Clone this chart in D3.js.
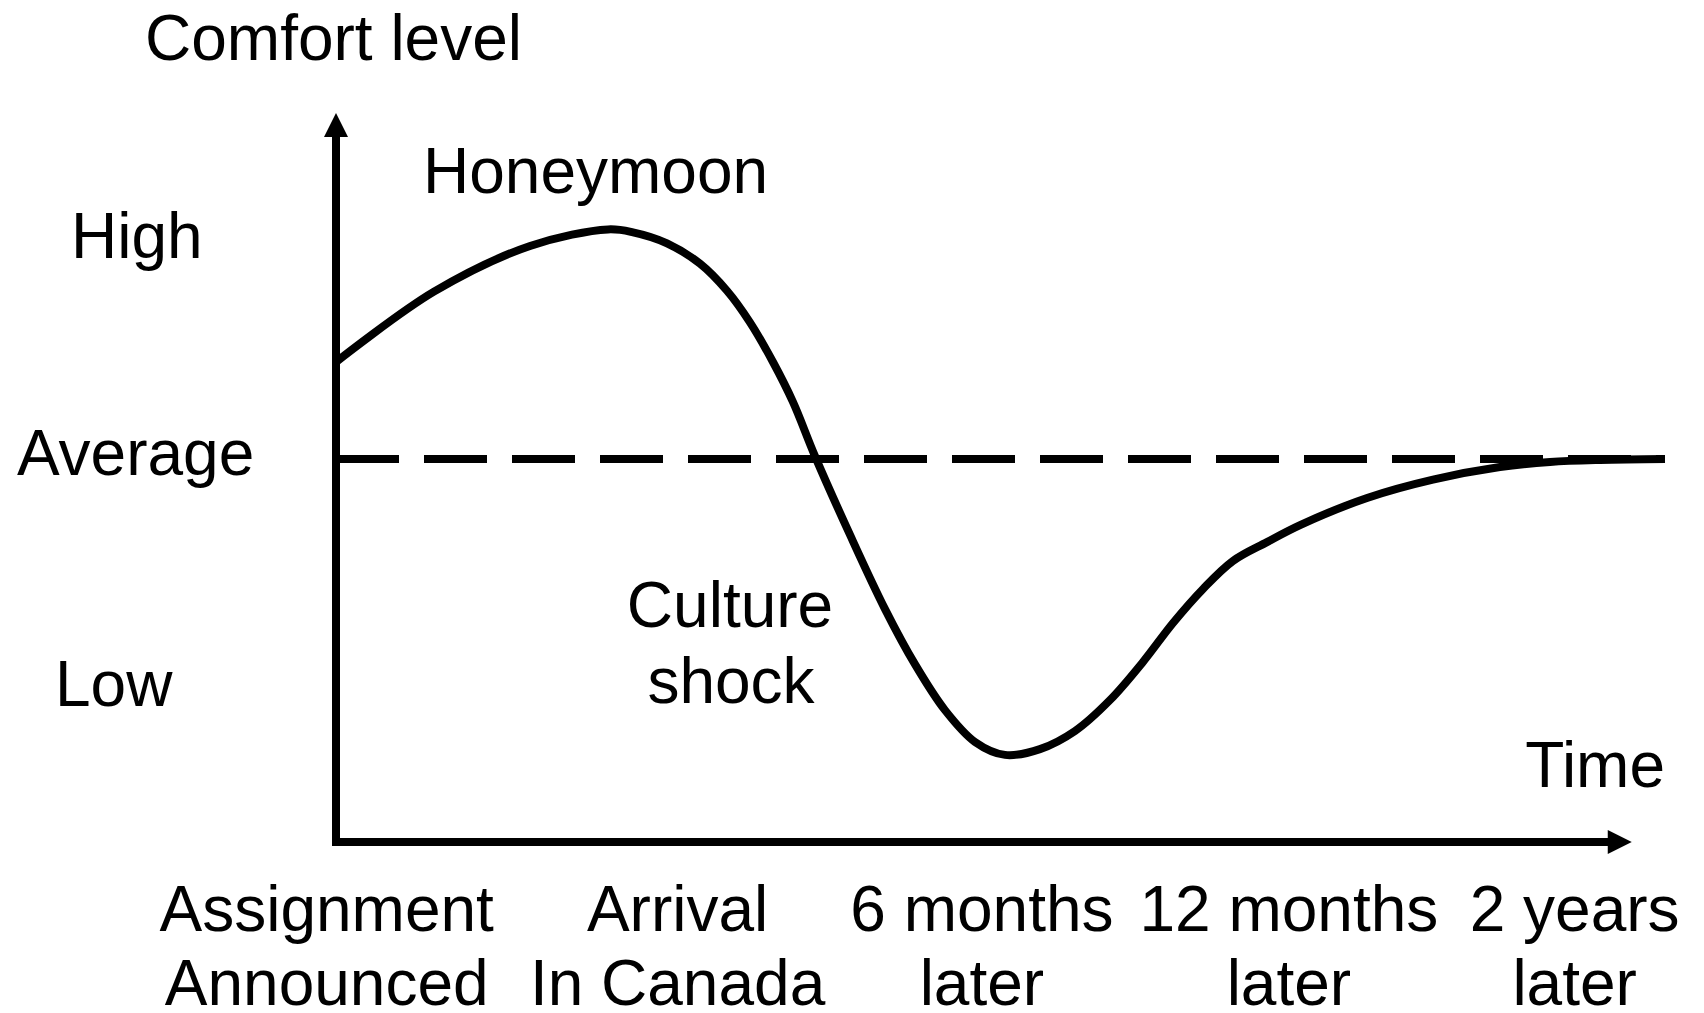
<!DOCTYPE html>
<html>
<head>
<meta charset="utf-8">
<script src="https://cdn.jsdelivr.net/npm/d3@7"></script>
<style>
  html, body { margin: 0; padding: 0; background: #fff; }
  svg { display: block; }
  text { font-family: "Liberation Sans", Arial, Helvetica, sans-serif; font-size: 64px; fill: #000; }
</style>
</head>
<body>
<div id="chart"></div>
<script>
// time runs 0..100 along the x axis, comfort: Low = 1, Average = 2, High = 3
var curve_time = [0, 7.37, 14.60, 20.47, 22.35, 24.91, 27.39, 29.42, 31.15, 32.88, 34.39, 36.04, 38.68, 41.31,
  43.57, 45.82, 48.08, 50.34, 52.97, 55.61, 58.24, 60.72, 62.98, 65.24, 67.49, 70.05, 72.54, 77.58, 82.54, 87.58,
  91.35, 95.11, 100];
var curve_comfort = [2.433, 2.747, 2.951, 3.025, 3.012, 2.963, 2.872, 2.751, 2.610, 2.433, 2.254, 2.013, 1.661, 1.330,
  1.083, 0.879, 0.737, 0.679, 0.705, 0.786, 0.924, 1.094, 1.268, 1.420, 1.545, 1.629, 1.705, 1.826, 1.908, 1.964,
  1.987, 1.996, 2.0];

var average_level = 2;

var level_names = ['High', 'Average', 'Low'];
var level_values = [3, 2.03, 1];

var tick_lines = [['Assignment', 'Announced'], ['Arrival', 'In Canada'], ['6 months', 'later'], ['12 months', 'later'], ['2 years', 'later']];
var tick_times = [-0.7, 25.7, 48.6, 71.7, 93.2];

var axis_comfort = [0.29, 3.545];   // bottom of y axis, tip of its arrow
var axis_time_end = 97.5;           // tip of x axis arrow

var width = 1704, height = 1013;
var stroke_w = 8;

var x = d3.scaleLinear().domain([0, 100]).range([336, 1665]);
var y = d3.scaleLinear().domain([1, 3]).range([683, 235]);

var svg = d3.select('#chart').append('svg')
  .attr('width', width)
  .attr('height', height);

// average level, dashed
svg.append('line')
  .attr('x1', x(0)).attr('x2', x(100))
  .attr('y1', y(average_level)).attr('y2', y(average_level))
  .attr('stroke', '#000')
  .attr('stroke-width', stroke_w)
  .attr('stroke-dasharray', '63,25');

// comfort curve
var pts = curve_time.map(function(t, i) { return [t, curve_comfort[i]]; });
var line = d3.line()
  .x(d => x(d[0]))
  .y(d => y(d[1]))
  .curve(d3.curveCatmullRom.alpha(0.5));

svg.append('path')
  .datum(pts)
  .attr('d', line)
  .attr('fill', 'none')
  .attr('stroke', '#000')
  .attr('stroke-width', stroke_w)
  .attr('stroke-linejoin', 'round');

// axes with arrows
var x0 = x(0), y0 = y(axis_comfort[0]);
var ytip = y(axis_comfort[1]), xtip = x(axis_time_end);
var head = 24, half = 12;

svg.append('line')
  .attr('x1', x0).attr('x2', x0)
  .attr('y1', y0 + stroke_w / 2).attr('y2', ytip + head - 1)
  .attr('stroke', '#000').attr('stroke-width', stroke_w);
svg.append('line')
  .attr('x1', x0 - stroke_w / 2).attr('x2', xtip - head + 1)
  .attr('y1', y0).attr('y2', y0)
  .attr('stroke', '#000').attr('stroke-width', stroke_w);

svg.append('path')
  .attr('d', 'M' + x0 + ',' + ytip + 'L' + (x0 + half) + ',' + (ytip + head) + 'L' + (x0 - half) + ',' + (ytip + head) + 'Z')
  .attr('fill', '#000');
svg.append('path')
  .attr('d', 'M' + xtip + ',' + y0 + 'L' + (xtip - head) + ',' + (y0 - half) + 'L' + (xtip - head) + ',' + (y0 + half) + 'Z')
  .attr('fill', '#000');

// axis titles
svg.append('text').attr('x', 145).attr('y', 60).text('Comfort level');
svg.append('text').attr('x', 1665).attr('y', 787).attr('text-anchor', 'end').text('Time');

// level labels on the left
var level_x = {'High': 71, 'Average': 17, 'Low': 55};
svg.selectAll('.level')
  .data(level_names)
  .enter()
  .append('text')
  .attr('class', 'level')
  .attr('x', d => level_x[d])
  .attr('y', (d, i) => y(level_values[i]) + 23)
  .text(d => d);

// time labels under the x axis
var ticks = svg.selectAll('.tick')
  .data(tick_lines)
  .enter()
  .append('text')
  .attr('class', 'tick')
  .attr('text-anchor', 'middle');
ticks.selectAll('tspan')
  .data((d, i) => d.map(s => ({s: s, t: tick_times[i]})))
  .enter()
  .append('tspan')
  .attr('x', d => x(d.t))
  .attr('y', (d, j) => 931 + j * 74)
  .text(d => d.s);

// annotations
svg.append('text').attr('x', 423).attr('y', 193).text('Honeymoon');
svg.append('text').attr('x', 730).attr('y', 627).attr('text-anchor', 'middle').text('Culture');
svg.append('text').attr('x', 731).attr('y', 703).attr('text-anchor', 'middle').text('shock');
</script>
</body>
</html>
